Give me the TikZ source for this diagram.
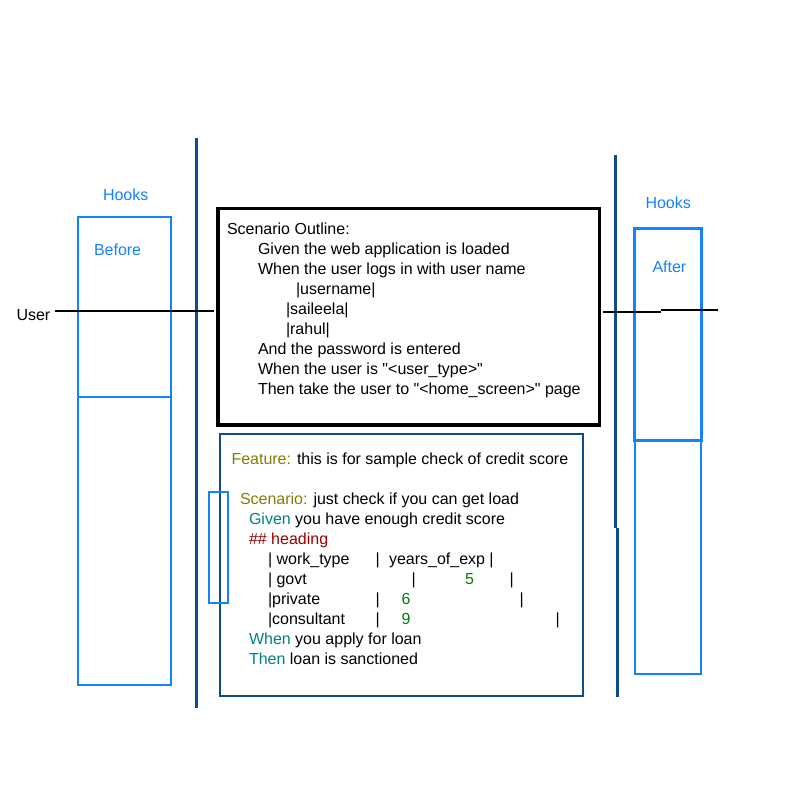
\documentclass[tikz,border=0pt]{standalone}
\usepackage{fontspec}
\setmainfont{Liberation Sans}
\definecolor{hookblue}{HTML}{1482FF}
\definecolor{lineblue}{HTML}{0F4C8C}
\definecolor{kwolive}{HTML}{808000}
\definecolor{kwteal}{HTML}{008080}
\definecolor{kwred}{HTML}{990000}
\definecolor{numgreen}{HTML}{008000}
\tikzset{
  txt/.style={anchor=base west, inner sep=0pt, outer sep=0pt, font=\fontsize{16}{19}\selectfont},
  hooktxt/.style={txt, text=hookblue},
  hookbox/.style={draw=hookblue, line width=2pt},
  hookboxthick/.style={draw=hookblue, line width=3pt},
  lifeline/.style={draw=lineblue, line width=3pt},
  userline/.style={draw=black, line width=2pt},
  outlinebox/.style={draw=black, line width=3.5pt},
  featurebox/.style={draw=lineblue, line width=2pt},
}
\newcommand{\dq}{\textquotedbl}
\begin{document}
\begin{tikzpicture}[x=1pt,y=-1pt]
\useasboundingbox[fill=white] (0,0) rectangle (800,800);

% left hooks
\node[hooktxt] (hooksL) at (103,200.5) {Hooks};
\draw[hookbox] (78,216.5) rectangle (170.5,397);
\draw[hookbox] (78,397) rectangle (170.5,684.5);
\node[hooktxt] (before) at (94,255) {Before};

% right hooks
\node[hooktxt] (hooksR) at (645.5,208.5) {Hooks};
\draw[hookboxthick] (634.5,228.5) rectangle (701.5,440.5);
\draw[hookbox] (634.5,440.5) rectangle (701,673.5);
\node[hooktxt] (after) at (652.5,272.5) {After};

% lifelines
\coordinate (lt) at (196,138);
\coordinate (lb) at (196,708);
\draw[lifeline] (lt) -- (lb);
\coordinate (rt) at (615.3,155);
\coordinate (rm) at (615.3,528);
\coordinate (rm2) at (617.3,528);
\coordinate (rb) at (617.3,697);
\draw[lifeline] (rt) -- (rm);
\draw[lifeline] (rm2) -- (rb);

% user line
\node[txt] (user) at (16.5,320) {User};
\coordinate (u1) at (55,311.3);
\coordinate (u2) at (214,311.3);
\draw[userline] (u1) -- (u2);
\coordinate (u3) at (603,311.6);
\coordinate (u4) at (660.5,311.6);
\coordinate (u5) at (660.5,310.4);
\coordinate (u6) at (718,310.4);
\draw[userline] (u3) -- (u4);
\draw[userline] (u5) -- (u6);

% scenario outline box
\draw[outlinebox] (218,208.5) rectangle (599.5,425);
\node[txt] (s1) at (227,234.5) {Scenario Outline:};
\node[txt] (s2) at (258,254.5) {Given the web application is loaded};
\node[txt] (s3) at (258,274.5) {When the user logs in with user name};
\node[txt] (s4) at (296,294.5) {|username|};
\node[txt] (s5) at (286,314.5) {|saileela|};
\node[txt] (s6) at (286,334.5) {|rahul|};
\node[txt] (s7) at (258,354.5) {And the password is entered};
\node[txt] (s8) at (258,374.5) {When the user is \dq<user\_type>\dq};
\node[txt] (s9) at (258,394.5) {Then take the user to \dq<home\_screen>\dq{} page};

% feature box
\draw[featurebox] (219.5,433.5) rectangle (582.5,695.5);
\draw[hookbox] (209,491.5) rectangle (228,603);
\node[txt] (f1) at (231.5,464) {\textcolor{kwolive}{Feature:} this is for sample check of credit score};
\node[txt] (f2) at (240,504) {\textcolor{kwolive}{Scenario:} just check if you can get load};
\node[txt] (f3) at (249,524) {\textcolor{kwteal}{Given} you have enough credit score};
\node[txt, text=kwred] (f4) at (249,544) {\#\# heading};
% table
\node[txt] (t1a) at (268,564) {| work\_type};
\node[txt] (t1b) at (375.5,564) {|};
\node[txt] (t1c) at (389,564) {years\_of\_exp |};
\node[txt] (t2a) at (268,584) {| govt};
\node[txt] (t2b) at (411.5,584) {|};
\node[txt, text=numgreen] (t2c) at (465,584) {5};
\node[txt] (t2d) at (509.5,584) {|};
\node[txt] (t3a) at (268,604) {|private};
\node[txt] (t3b) at (375.5,604) {|};
\node[txt, text=numgreen] (t3c) at (401.5,604) {6};
\node[txt] (t3d) at (519.5,604) {|};
\node[txt] (t4a) at (268,624) {|consultant};
\node[txt] (t4b) at (375.5,624) {|};
\node[txt, text=numgreen] (t4c) at (401.5,624) {9};
\node[txt] (t4d) at (555.5,624) {|};
\node[txt] (f5) at (249,644) {\textcolor{kwteal}{When} you apply for loan};
\node[txt] (f6) at (249,664) {\textcolor{kwteal}{Then} loan is sanctioned};
\end{tikzpicture}
\end{document}
